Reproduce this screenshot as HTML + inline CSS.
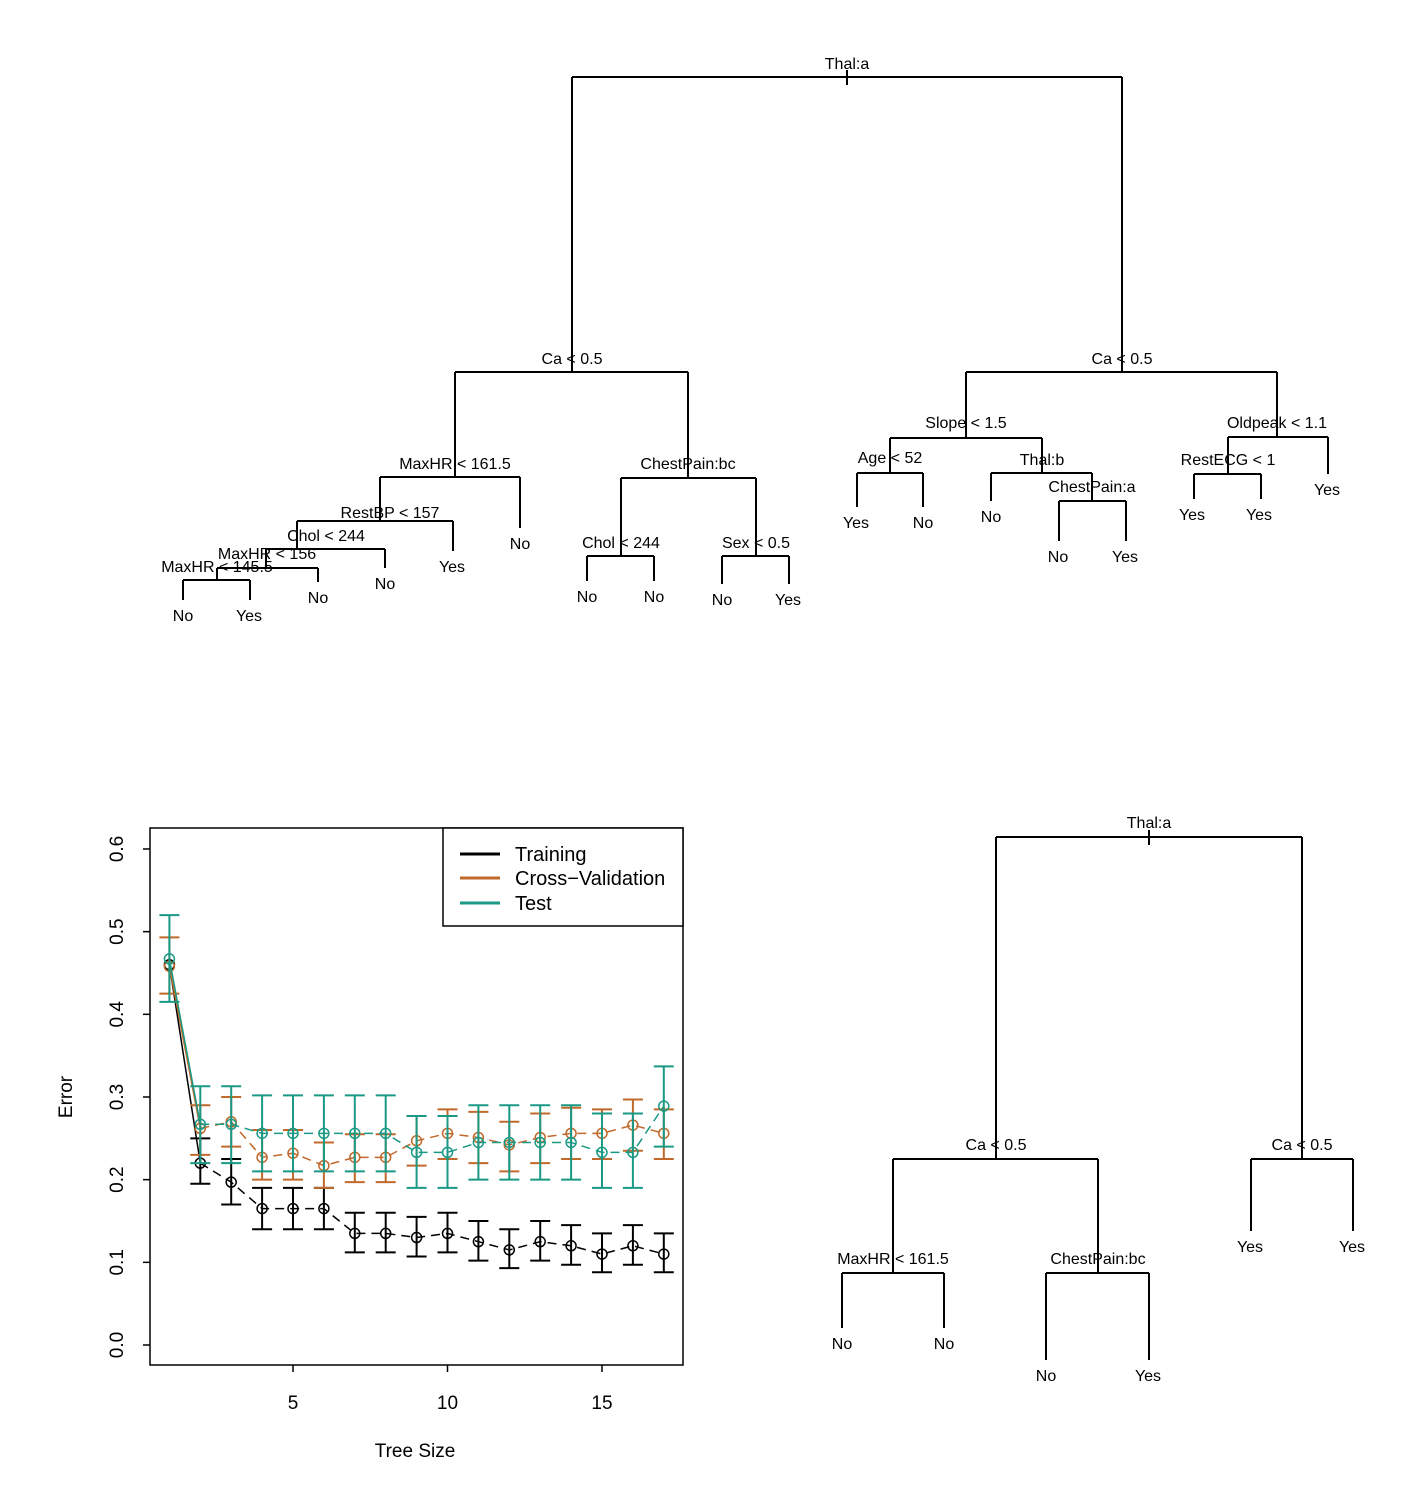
<!DOCTYPE html>
<html><head><meta charset="utf-8"><style>body{margin:0;background:#fff}svg{display:block}text{font-family:"Liberation Sans",sans-serif}</style></head>
<body>
<svg id="s" width="1406" height="1510" viewBox="0 0 1406 1510" xmlns="http://www.w3.org/2000/svg">
<g id="tree" stroke="#000" stroke-width="2" fill="none"></g>
<g id="tl" font-size="16" text-anchor="middle" fill="#000"></g>
<g id="plot"></g>
</svg>
<script>
var NS="http://www.w3.org/2000/svg";
function el(p,t,a,txt){var e=document.createElementNS(NS,t);for(var k in a)e.setAttribute(k,a[k]);if(txt!=null)e.textContent=txt;document.getElementById(p).appendChild(e);return e;}
function L(x1,y1,x2,y2,p,c,w,d){var a={x1:x1,y1:y1,x2:x2,y2:y2,stroke:c||"#000","stroke-width":w||2};if(d)a["stroke-dasharray"]=d;el(p||"tree","line",a);}
function T(x,y,s){el("tl","text",{x:x,y:y+6},s);}
function S(lab,x,ly,hy,lx,le,rx,re){T(x,ly,lab);L(lx,hy,rx,hy);L(lx,hy,lx,le);L(rx,hy,rx,re);}
T(847,63,"Thal:a");L(847,70,847,85);
S("",0,0,77,572,372,1122,372);
S("Ca < 0.5",572,358,372,455,477,688,478);
S("MaxHR < 161.5",455,463,477,380,521,520,528);T(520,543,"No");
S("RestBP < 157",390,512,521,297,549,453,551);T(452,566,"Yes");
S("Chol < 244",326,535,549,266,568,385,568);T(385,583,"No");
S("MaxHR < 156",267,553,568,217,580,318,582);T(318,597,"No");
S("MaxHR < 145.5",217,566,580,183,600,250,600);T(183,615,"No");T(249,615,"Yes");
S("ChestPain:bc",688,463,478,621,556,756,556);
S("Chol < 244",621,542,556,587,581,654,581);T(587,596,"No");T(654,596,"No");
S("Sex < 0.5",756,542,556,722,584,789,584);T(722,599,"No");T(788,599,"Yes");
S("Ca < 0.5",1122,358,372,966,438,1277,437);
S("Slope < 1.5",966,422,438,890,473,1042,473);
S("Age < 52",890,457,473,857,507,923,507);T(856,522,"Yes");T(923,522,"No");
S("Thal:b",1042,459,473,991,501,1092,501);T(991,516,"No");
S("ChestPain:a",1092,486,501,1059,541,1126,541);T(1058,556,"No");T(1125,556,"Yes");
S("Oldpeak < 1.1",1277,422,437,1228,474,1328,474);T(1327,489,"Yes");
S("RestECG < 1",1228,459,474,1194,499,1261,499);T(1192,514,"Yes");T(1259,514,"Yes");
T(1149,822,"Thal:a");L(1149,830,1149,845);
S("",0,0,837,996,1159,1302,1159);
S("Ca < 0.5",996,1144,1159,893,1273,1098,1273);
S("Ca < 0.5",1302,1144,1159,1251,1231,1353,1231);T(1250,1246,"Yes");T(1352,1246,"Yes");
S("MaxHR < 161.5",893,1258,1273,842,1328,944,1328);T(842,1343,"No");T(944,1343,"No");
S("ChestPain:bc",1098,1258,1273,1046,1360,1149,1360);T(1046,1375,"No");T(1148,1375,"Yes");
function X(s){return 293+(s-5)*30.9;}function Y(v){return 1345-826.7*v;}
var P="plot";
el(P,"rect",{x:150,y:828,width:533,height:537,fill:"none",stroke:"#000","stroke-width":1.5});
[0,0.1,0.2,0.3,0.4,0.5,0.6].forEach(function(v){var y=Y(v);L(143,y,150,y,P,"#000",1.5);
 el(P,"text",{x:0,y:0,"font-size":19,"text-anchor":"middle",transform:"translate(123,"+y+") rotate(-90)"},v.toFixed(1));});
[5,10,15].forEach(function(s){var x=X(s);L(x,1365,x,1372,P,"#000",1.5);el(P,"text",{x:x,y:1409,"font-size":19,"text-anchor":"middle"},s);});
el(P,"text",{x:415,y:1457,"font-size":19,"text-anchor":"middle"},"Tree Size");
el(P,"text",{x:0,y:0,"font-size":19,"text-anchor":"middle",transform:"translate(72,1097) rotate(-90)"},"Error");
var tr=[.46,.22,.197,.165,.165,.165,.135,.135,.13,.135,.125,.115,.125,.12,.11,.12,.11];
var trl=[.46,.195,.17,.14,.14,.14,.112,.112,.107,.112,.102,.093,.102,.097,.088,.097,.088];
var tru=[.46,.25,.225,.19,.19,.19,.16,.16,.155,.16,.15,.14,.15,.145,.135,.145,.135];
var cv=[.458,.262,.27,.227,.232,.217,.227,.227,.247,.256,.251,.242,.251,.256,.256,.266,.256];
var cvl=[.425,.23,.24,.2,.2,.19,.197,.197,.217,.225,.22,.21,.22,.225,.225,.235,.225];
var cvu=[.493,.29,.3,.26,.26,.245,.255,.255,.277,.285,.282,.27,.28,.287,.285,.297,.285];
var te=[.467,.267,.267,.256,.256,.256,.256,.256,.233,.233,.245,.245,.245,.245,.233,.233,.289];
var tel=[.415,.22,.22,.21,.21,.21,.21,.21,.19,.19,.2,.2,.2,.2,.19,.19,.24];
var teu=[.52,.313,.313,.302,.302,.302,.302,.302,.277,.277,.29,.29,.29,.29,.28,.28,.337];
function series(m,lo,hi,c,skip0){
 L(X(1),Y(m[0]),X(2),Y(m[1]),P,c,1.5);
 var pts=m.slice(1).map(function(v,i){return X(i+2)+","+Y(v);}).join(" ");
 el(P,"polyline",{points:pts,fill:"none",stroke:c,"stroke-width":1.5,"stroke-dasharray":"9,6"});
 m.forEach(function(v,i){var x=X(i+1);
  if(!(skip0&&i==0)){L(x,Y(lo[i]),x,Y(hi[i]),P,c,2);L(x-10,Y(lo[i]),x+10,Y(lo[i]),P,c,2);L(x-10,Y(hi[i]),x+10,Y(hi[i]),P,c,2);}
  el(P,"circle",{cx:x,cy:Y(v),r:5,fill:"none",stroke:c,"stroke-width":1.5});});
}
var OR="#C0692B",TE="#1A9985";
series(tr,trl,tru,"#000",true);series(cv,cvl,cvu,OR);series(te,tel,teu,TE);
el(P,"rect",{x:443,y:828,width:240,height:98,fill:"#fff",stroke:"#000","stroke-width":1.5});
[["Training","#000",854],["Cross\u2212Validation",OR,878],["Test",TE,903]].forEach(function(a){
 L(460,a[2],500,a[2],P,a[1],3);el(P,"text",{x:515,y:a[2]+7,"font-size":20},a[0]);});
</script>
</body></html>
